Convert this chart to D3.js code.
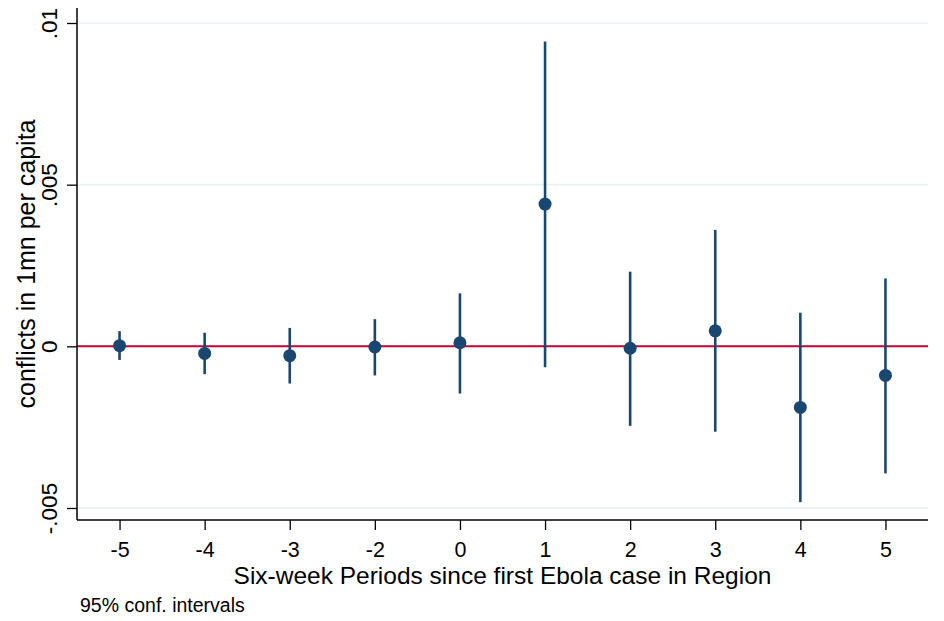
<!DOCTYPE html>
<html><head><meta charset="utf-8">
<script src="https://cdn.jsdelivr.net/npm/d3@7/dist/d3.min.js"></script>
<style>body{margin:0;background:#fff}svg{display:block}text{font-family:"Liberation Sans",Arial,Helvetica,sans-serif}</style>
</head><body>
<script>
const periods = ["-5","-4","-3","-2","0","1","2","3","4","5"];
const estimates = [0.00002,-0.00022,-0.00029,-0.00002,0.00011,0.0044,-0.00006,0.00048,-0.00189,-0.0009];
const ciLow  = [-0.00042,-0.00086,-0.00115,-0.0009,-0.00146,-0.00065,-0.00246,-0.00264,-0.00482,-0.00393];
const ciHigh = [0.00047,0.00042,0.00057,0.00084,0.00164,0.00943,0.00231,0.0036,0.00104,0.0021];
const yTicks = [-0.005,0,0.005,0.01];
const yTickLabels = ["-.005","0",".005",".01"];

const W=944,H=621;
const L=77,R=928,T=8,B=520;
const svg=d3.select("body").append("svg").attr("width",W).attr("height",H);

const x=d3.scalePoint().domain(periods).range([L,R]).padding(0.5);
const y=d3.scaleLinear().domain([-0.005,0.01]).range([508,23]);

// gridlines
svg.append("g").selectAll("line").data(yTicks).join("line")
  .attr("x1",L).attr("x2",R).attr("y1",d=>y(d)).attr("y2",d=>y(d))
  .attr("stroke","#eaf2f3").attr("stroke-width",1.6);

// zero reference line
svg.append("line").attr("x1",L).attr("x2",R).attr("y1",y(0)).attr("y2",y(0))
  .attr("stroke","#c10534").attr("stroke-width",2);

// y axis
const yAxis=d3.axisLeft(y).tickValues(yTicks).tickFormat((d,i)=>yTickLabels[i]).tickSize(10).tickSizeOuter(0);
const gy=svg.append("g").attr("transform",`translate(${L},0)`).call(yAxis);
gy.select(".domain").remove();
gy.selectAll(".tick line").attr("stroke","#000").attr("stroke-width",1.3);
gy.selectAll(".tick text").attr("font-size",22.5).attr("fill","#000")
  .attr("transform","rotate(-90)").attr("x",0).attr("y",-20).attr("dy",0)
  .attr("text-anchor","middle");
svg.append("line").attr("x1",L).attr("x2",L).attr("y1",T).attr("y2",B).attr("stroke","#000").attr("stroke-width",1.5);

// x axis
const xAxis=d3.axisBottom(x).tickSize(10).tickSizeOuter(0);
const gx=svg.append("g").attr("transform",`translate(0,${B})`).call(xAxis);
gx.select(".domain").remove();
gx.selectAll(".tick line").attr("stroke","#000").attr("stroke-width",1.3);
gx.selectAll(".tick text").attr("font-size",21.5).attr("fill","#000").attr("y",37).attr("dy",0);
svg.append("line").attr("x1",L).attr("x2",R).attr("y1",B).attr("y2",B).attr("stroke","#000").attr("stroke-width",1.5);

// CIs
svg.append("g").selectAll("line").data(periods).join("line")
  .attr("x1",d=>x(d)).attr("x2",d=>x(d))
  .attr("y1",(d,i)=>y(ciLow[i])).attr("y2",(d,i)=>y(ciHigh[i]))
  .attr("stroke","#1a476f").attr("stroke-width",2.6);

// points
svg.append("g").selectAll("circle").data(periods).join("circle")
  .attr("cx",d=>x(d)).attr("cy",(d,i)=>y(estimates[i])).attr("r",6.5)
  .attr("fill","#1a476f");

// titles
svg.append("text").attr("x",(L+R)/2).attr("y",584).attr("text-anchor","middle")
  .attr("font-size",24.5).attr("fill","#000").text("Six-week Periods since first Ebola case in Region");
svg.append("text").attr("transform",`translate(35,${(T+B)/2}) rotate(-90)`).attr("text-anchor","middle")
  .attr("font-size",25).attr("fill","#000").text("conflicts in 1mn per capita");
svg.append("text").attr("x",80).attr("y",612).attr("font-size",19.5).attr("fill","#000").text("95% conf. intervals");
</script>
</body></html>
